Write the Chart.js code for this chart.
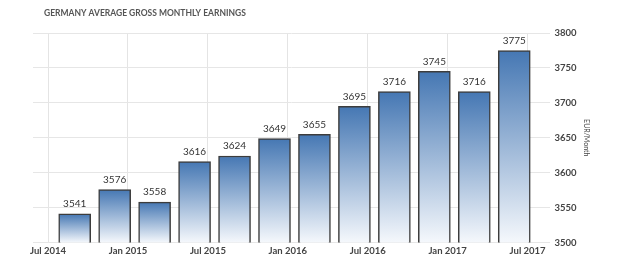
<!DOCTYPE html>
<html>
<head>
<meta charset="utf-8">
<script src="https://cdn.jsdelivr.net/npm/chart.js@4"></script>
<style>
  body { margin: 0; background: #fff; }
  #wrap { width: 640px; height: 270px; }
</style>
</head>
<body>
<div id="wrap"><canvas id="myChart" width="640" height="270"></canvas></div>
<script>
const chartTitle = "GERMANY AVERAGE GROSS MONTHLY EARNINGS";
const quarters = ["Sep 2014", "Dec 2014", "Mar 2015", "Jun 2015", "Sep 2015", "Dec 2015",
  "Mar 2016", "Jun 2016", "Sep 2016", "Dec 2016", "Mar 2017", "Jun 2017"];
const earnings = [3541, 3576, 3558, 3616, 3624, 3649, 3655, 3695, 3716, 3745, 3716, 3775];
const xTickLabels = ["Jul 2014", "Jan 2015", "Jul 2015", "Jan 2016", "Jul 2016", "Jan 2017", "Jul 2017"];
const unitLabel = "EUR/Month";

const monthNames = ["Jan","Feb","Mar","Apr","May","Jun","Jul","Aug","Sep","Oct","Nov","Dec"];
// months counted from Jul 2014
function monthIndex(label) {
  let parts = label.split(" ");
  return (parseInt(parts[1]) - 2014) * 12 + monthNames.indexOf(parts[0]) - 6;
}
const tickLookup = {};
xTickLabels.forEach(l => { tickLookup[monthIndex(l)] = l; });

const barData = quarters.map((q, i) => ({ x: monthIndex(q), y: earnings[i] }));

// value labels on top of bars + the title text
const extras = {
  id: "extras",
  afterDatasetsDraw(chart) {
    let c = chart.ctx;
    c.save();
    c.fillStyle = "#333";
    c.font = "10px Lato, 'DejaVu Sans', sans-serif";
    c.textAlign = "center";
    c.textBaseline = "bottom";
    chart.getDatasetMeta(0).data.forEach((bar, i) => {
      c.fillText(earnings[i], bar.x, bar.y - 5);
    });
    c.fillStyle = "#555";
    c.font = "bold 8.5px Lato, 'DejaVu Sans', sans-serif";
    c.textAlign = "left";
    c.textBaseline = "middle";
    c.fillText(chartTitle, 44, 13);
    c.restore();
  }
};

let ctx = document.getElementById("myChart").getContext("2d");
let myChart = new Chart(ctx, {
  type: "bar",
  data: {
    datasets: [
      {
        label: unitLabel,
        data: barData,
        barThickness: 32,
        borderColor: "#3c3c3c",
        borderWidth: 1.5,
        backgroundColor: (context) => {
          let chart = context.chart;
          let area = chart.chartArea;
          if (!area || !context.raw) return "#6a9acb";
          let top = chart.scales.y.getPixelForValue(context.raw.y);
          let g = chart.ctx.createLinearGradient(0, top, 0, area.bottom);
          g.addColorStop(0, "#4577b3");
          g.addColorStop(1, "#f5f8fc");
          return g;
        },
      },
    ],
  },
  options: {
    responsive: false,
    animation: false,
    layout: { padding: { left: 33, top: 33, right: 16, bottom: 10 } },
    plugins: {
      legend: { display: false },
      tooltip: { enabled: false },
    },
    scales: {
      x: {
        type: "linear",
        offset: false,
        min: -1.13,
        max: 37.65,
        afterBuildTicks: (scale) => {
          scale.ticks = xTickLabels.map(l => ({ value: monthIndex(l) }));
        },
        ticks: {
          autoSkip: false,
          maxRotation: 0,
          padding: 3,
          color: "#444",
          font: { family: "Lato, 'DejaVu Sans', sans-serif", size: 9.5, weight: "bold" },
          callback: (v) => tickLookup[v] || "",
        },
        grid: { color: "#e4e4e4", drawTicks: false, offset: false },
        border: { display: false },
      },
      y: {
        position: "right",
        min: 3500,
        max: 3800,
        ticks: {
          stepSize: 50,
          padding: 5,
          color: "#444",
          font: { family: "Lato, 'DejaVu Sans', sans-serif", size: 9.5, weight: "bold" },
          callback: (v) => String(v),
        },
        grid: { color: "#e6e6e6", drawTicks: false },
        border: { display: false },
        title: {
          display: true,
          text: unitLabel,
          color: "#444",
          padding: { top: 34, bottom: 0 },
          font: { family: "Lato, 'DejaVu Sans', sans-serif", size: 7 },
        },
      },
    },
  },
  plugins: [extras],
});
</script>
</body>
</html>
